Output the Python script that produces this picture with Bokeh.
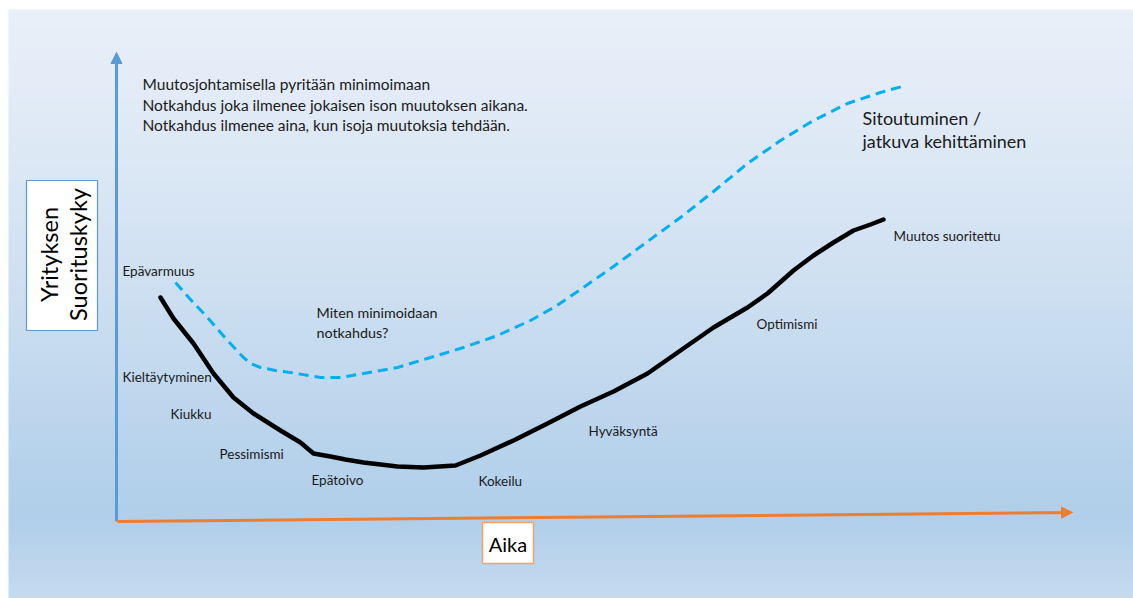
import numpy as np
from bokeh.plotting import figure
from bokeh.models import Range1d, Arrow, NormalHead
from bokeh.core.properties import value
from bokeh.embed import file_html
from bokeh.resources import INLINE

W, H = 1133, 598
FONT = "Lato"

# ---- data: time (x) and company performance (y, 0 = bottom of picture) ----
change_time = [160, 173, 193, 213, 233, 253, 280, 300, 313, 330, 345, 363, 397, 423, 455,
               480, 513, 547, 580, 613, 647, 680, 713, 747, 767, 793, 813, 833, 853, 870, 883]
change_perf = [301, 280, 255, 225, 201, 185, 168, 156, 145, 142, 139, 136, 132, 131, 133,
               143, 158, 175, 192, 207, 225, 248, 271, 291, 305, 328, 343, 356, 368, 374, 379]

commit_time = [175, 190, 207, 227, 243, 250, 260, 275, 290, 320, 340, 363, 397, 430, 463,
               497, 530, 555, 580, 613, 647, 680, 713, 747, 780, 813, 847, 880, 905]
commit_perf = [316, 299, 281, 258, 241, 235, 231, 228, 226, 221, 221, 225, 231, 241, 251,
               263, 278, 292, 309, 332, 357, 381, 407, 435, 458, 478, 495, 506, 513]

phase_labels = ["Epävarmuus", "Kieltäytyminen", "Kiukku", "Pessimismi", "Epätoivo",
                "Kokeilu", "Hyväksyntä", "Optimismi"]
phase_x = [122, 122, 170, 219, 311, 478, 588, 756]
phase_y = [328, 222, 185, 145, 119, 118, 168, 275]
final_label = "Muutos suoritettu"
final_x, final_y = 893, 363

note_lines = ["Muutosjohtamisella pyritään minimoimaan",
              "Notkahdus joka ilmenee jokaisen ison muutoksen aikana.",
              "Notkahdus ilmenee aina, kun isoja muutoksia tehdään."]
question_lines = ["Miten minimoidaan", "notkahdus?"]
commit_lines = ["Sitoutuminen /", "jatkuva kehittäminen"]
y_title = ["Yrityksen", "Suorituskyky"]
x_title = "Aika"

# axis extents
AX_X0, AX_Y0 = 117, 77
AX_YTOP = 546
AX_XEND, AX_XEND_Y = 1072, 86

p = figure(width=W, height=H, output_backend="svg", toolbar_location=None,
           x_range=Range1d(0, W), y_range=Range1d(0, H), min_border=0)
p.axis.visible = False
p.grid.visible = False
p.outline_line_color = None
p.background_fill_color = "white"
p.border_fill_color = "white"

# gradient background panel
stops_y = [0, 78, 148, 298, 448, 589]
stops_r = [198, 177, 184, 205, 222, 233]
stops_g = [219, 207, 211, 223, 233, 240]
stops_b = [240, 234, 236, 241, 246, 249]
rows = np.arange(589) + 0.5
r = np.interp(rows, stops_y, stops_r).astype(np.uint32)
g = np.interp(rows, stops_y, stops_g).astype(np.uint32)
b = np.interp(rows, stops_y, stops_b).astype(np.uint32)
img = (255 << 24) | (b << 16) | (g << 8) | r
img = img.reshape(589, 1).astype(np.uint32)
p.image_rgba(image=[img], x=8, y=0, dw=W - 8, dh=589)

# axes arrows
p.add_layout(Arrow(x_start=AX_X0 - 1, y_start=AX_Y0, x_end=AX_X0 - 1, y_end=AX_YTOP,
                   line_color="#5b9bd5", line_width=3,
                   end=NormalHead(size=11, fill_color="#5b9bd5", line_color="#5b9bd5")))
p.add_layout(Arrow(x_start=AX_X0, y_start=AX_Y0, x_end=AX_XEND, y_end=AX_XEND_Y,
                   line_color="#ed7d31", line_width=3,
                   end=NormalHead(size=11, fill_color="#ed7d31", line_color="#ed7d31")))

# curves
p.line(commit_time, commit_perf, line_color="#00b0f0", line_width=3, line_dash="10 6")
p.line(change_time, change_perf, line_color="black", line_width=4.5, line_join="round",
       line_cap="round")

# phase labels
p.text(x=phase_x, y=phase_y, text=phase_labels, text_font=value(FONT), text_font_size="13.5px",
       text_color="#1a1a1a", text_baseline="middle", text_align="left")
p.text(x=[final_x], y=[final_y], text=[final_label], text_font=value(FONT),
       text_font_size="13.5px", text_color="#1a1a1a", text_baseline="middle", text_align="left")

# note
p.text(x=[142] * 3, y=[515, 494, 474], text=note_lines, text_font=value(FONT),
       text_font_size="15.5px", text_color="#1a1a1a", text_baseline="middle")
p.text(x=[316, 316], y=[286, 266], text=question_lines, text_font=value(FONT),
       text_font_size="14.3px", text_color="#1a1a1a", text_baseline="middle")
p.text(x=[862, 862], y=[481, 458], text=commit_lines, text_font=value(FONT),
       text_font_size="18px", text_color="#1a1a1a", text_baseline="middle")

# axis title boxes
p.quad(left=[26], right=[97], bottom=[268], top=[418], fill_color="white",
       line_color="#5b9bd5", line_width=1.2)
p.text(x=[48, 77], y=[344, 344], text=y_title, angle=np.pi / 2, text_font=value(FONT),
       text_font_size="23.5px", text_color="black", text_align="center", text_baseline="middle")
p.quad(left=[482], right=[533], bottom=[35], top=[76], fill_color="white",
       line_color="#f4a46a", line_width=1.5)
p.text(x=[507.5], y=[55], text=[x_title], text_font=value(FONT), text_font_size="20px",
       text_color="black", text_align="center", text_baseline="middle")

open("out.html", "w").write(file_html(p, INLINE))
